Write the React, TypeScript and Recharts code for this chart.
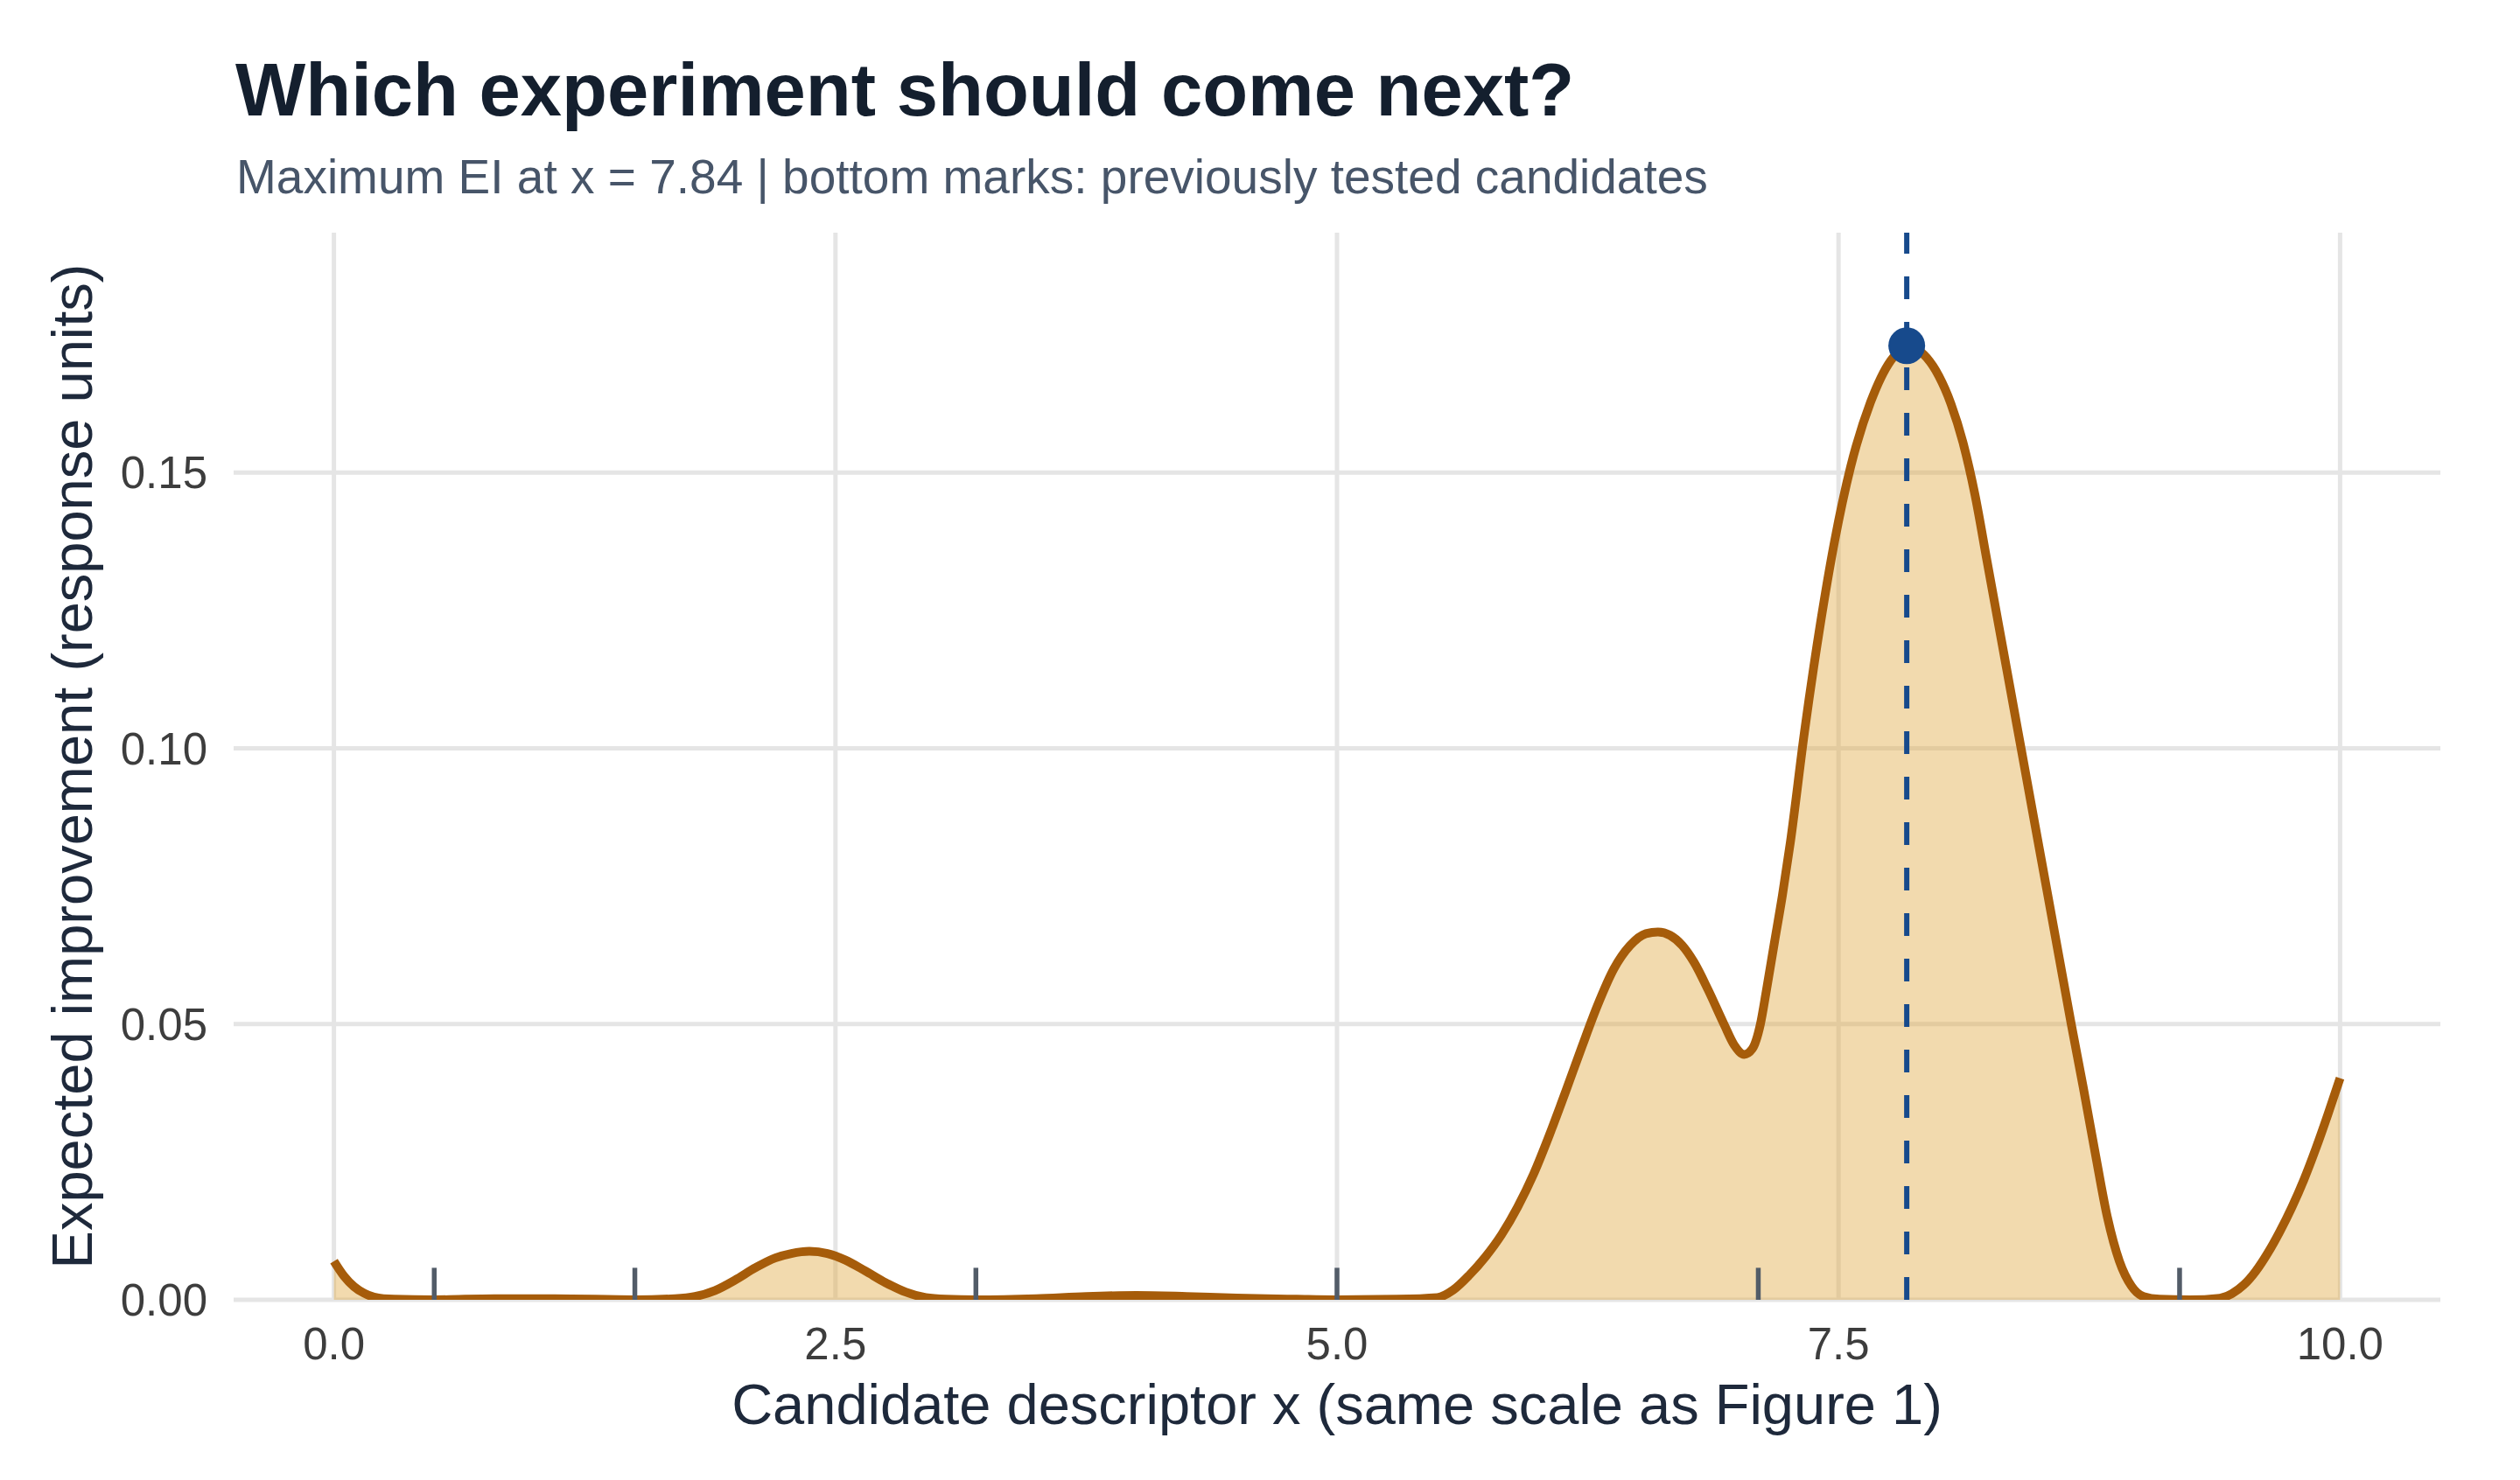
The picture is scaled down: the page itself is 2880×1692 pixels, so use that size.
import React from "react";
import {
  ComposedChart,
  Area,
  XAxis,
  YAxis,
  CartesianGrid,
  ReferenceLine,
  ReferenceDot,
} from "recharts";

// candidate descriptor grid and the expected improvement
const X_GRID = [
  0.0, 0.05, 0.1, 0.15, 0.2, 0.3, 0.5, 0.8, 1.1, 1.5, 1.7, 1.8, 1.9, 2.0, 2.1,
  2.2, 2.28, 2.37, 2.46, 2.55, 2.65, 2.75, 2.85, 2.95, 3.05, 3.2, 3.5, 3.75,
  4.0, 4.25, 4.5, 4.8, 5.0, 5.3, 5.5, 5.58, 5.66, 5.74, 5.82, 5.9, 5.98, 6.06,
  6.14, 6.22, 6.3, 6.38, 6.46, 6.54, 6.6, 6.66, 6.72, 6.78, 6.85, 6.93, 6.98,
  7.03, 7.07, 7.11, 7.14, 7.18, 7.22, 7.26, 7.33, 7.41, 7.48, 7.56, 7.66, 7.76,
  7.8, 7.84, 7.88, 7.94, 8.0, 8.06, 8.12, 8.18, 8.24, 8.3, 8.36, 8.42, 8.48,
  8.54, 8.6, 8.66, 8.72, 8.78, 8.84, 8.9, 8.96, 9.02, 9.1, 9.25, 9.4, 9.46,
  9.52, 9.58, 9.64, 9.7, 9.76, 9.82, 9.88, 9.94, 10.0,
];
const EI = [
  0.007, 0.0043, 0.0024, 0.0012, 0.0005, 0.0001, 0.0, 0.0002, 0.0002, 0.0,
  0.0002, 0.0006, 0.0017, 0.0036, 0.0058, 0.0076, 0.0084, 0.0088, 0.0084,
  0.0072, 0.0052, 0.0031, 0.0014, 0.0004, 0.0001, 0.0, 0.0002, 0.0006, 0.0008,
  0.0006, 0.0003, 0.0001, 0.0, 0.0001, 0.0004, 0.0018, 0.0045, 0.0078, 0.0118,
  0.0168, 0.0228, 0.03, 0.0378, 0.0458, 0.0535, 0.06, 0.0642, 0.0664, 0.0667,
  0.0661, 0.0643, 0.0612, 0.0562, 0.0499, 0.0462, 0.0445, 0.0455, 0.0499,
  0.056, 0.0647, 0.0733, 0.083, 0.1029, 0.1227, 0.1375, 0.151, 0.1628, 0.1703,
  0.172, 0.173, 0.1726, 0.1708, 0.1675, 0.1625, 0.1555, 0.146, 0.134, 0.122,
  0.11, 0.098, 0.086, 0.074, 0.062, 0.05, 0.0385, 0.0265, 0.015, 0.007, 0.0025,
  0.0006, 0.0001, 0.0, 0.0003, 0.0011, 0.0027, 0.0052, 0.0085, 0.0124, 0.0168,
  0.0218, 0.0275, 0.0337, 0.0402,
];
// previously tested candidates (rug marks)
const TESTED_X = [0.5, 1.5, 3.2, 5.0, 7.1, 9.2];
const BEST_X = 7.84;
const BEST_EI = 0.173;

const X_TICKS = [0, 2.5, 5, 7.5, 10];
const Y_TICKS = [0, 0.05, 0.1, 0.15];

const W = 2880;
const H = 1692;
const X_DOMAIN = [-0.5, 10.5];
const Y_MAX = 0.1935;
const RUG_LEN = Y_MAX * 0.03;
const FONT = '"Liberation Sans", Arial, Helvetica, sans-serif';

const data = X_GRID.map((x, i) => ({ x, ei: EI[i] }));

// grid only at the tick values, no frame round the panel
const hLines = ({ offset }: any) =>
  Y_TICKS.map((t) => offset.top + offset.height * (1 - t / Y_MAX));
const vLines = ({ offset }: any) =>
  X_TICKS.map(
    (t) =>
      offset.left +
      (offset.width * (t - X_DOMAIN[0])) / (X_DOMAIN[1] - X_DOMAIN[0])
  );

export default function App() {
  return (
    <div
      style={{
        position: "absolute",
        left: 0,
        top: 0,
        width: W,
        height: H,
        background: "#fff",
        fontFamily: FONT,
      }}
    >
      <ComposedChart
        width={W}
        height={H}
        data={data}
        margin={{ top: 266, right: 91, bottom: 0, left: 0 }}
      >
        <CartesianGrid
          stroke="#e5e5e5"
          strokeWidth={5}
          horizontalCoordinatesGenerator={hLines}
          verticalCoordinatesGenerator={vLines}
        />
        <XAxis
          dataKey="x"
          type="number"
          domain={X_DOMAIN}
          ticks={X_TICKS}
          tickFormatter={(v: number) => v.toFixed(1)}
          axisLine={false}
          tickLine={false}
          tickSize={0}
          tickMargin={32}
          height={206}
          tick={{ fill: "#3d3d3d", fontSize: 51, fontFamily: FONT }}
          allowDataOverflow
        />
        <YAxis
          type="number"
          domain={[0, Y_MAX]}
          ticks={Y_TICKS}
          tickFormatter={(v: number) => v.toFixed(2)}
          axisLine={false}
          tickLine={false}
          tickSize={0}
          tickMargin={30}
          width={267}
          tick={{ fill: "#3d3d3d", fontSize: 51, fontFamily: FONT }}
          allowDataOverflow
        />
        <Area
          type="monotone"
          dataKey="ei"
          baseValue={0}
          stroke="#a65c0a"
          strokeWidth={10}
          fill="#dfa63f"
          fillOpacity={0.42}
          dot={false}
          activeDot={false}
          isAnimationActive={false}
        />
        {TESTED_X.map((t) => (
          <ReferenceLine
            key={t}
            segment={[
              { x: t, y: 0 },
              { x: t, y: RUG_LEN },
            ]}
            stroke="#525c68"
            strokeWidth={5.5}
          />
        ))}
        <ReferenceLine
          x={BEST_X}
          stroke="#174a8c"
          strokeWidth={6}
          strokeDasharray="26 26"
        />
        <ReferenceDot
          x={BEST_X}
          y={BEST_EI}
          r={21}
          fill="#174a8c"
          stroke="none"
        />
      </ComposedChart>
      <svg
        width={W}
        height={H}
        style={{ position: "absolute", left: 0, top: 0, pointerEvents: "none" }}
      >
        <text
          x={269}
          y={132}
          fontSize={85}
          fontWeight="bold"
          fill="#141f2e"
          fontFamily={FONT}
        >
          Which experiment should come next?
        </text>
        <text x={270} y={221} fontSize={55} fill="#475569" fontFamily={FONT}>
          Maximum EI at x = 7.84 | bottom marks: previously tested candidates
        </text>
        <text
          x={1528}
          y={1628}
          fontSize={65}
          fill="#1e293b"
          textAnchor="middle"
          fontFamily={FONT}
        >
          Candidate descriptor x (same scale as Figure 1)
        </text>
        <text
          transform="translate(105 876) rotate(-90)"
          fontSize={65}
          fill="#1e293b"
          textAnchor="middle"
          fontFamily={FONT}
        >
          Expected improvement (response units)
        </text>
      </svg>
    </div>
  );
}
